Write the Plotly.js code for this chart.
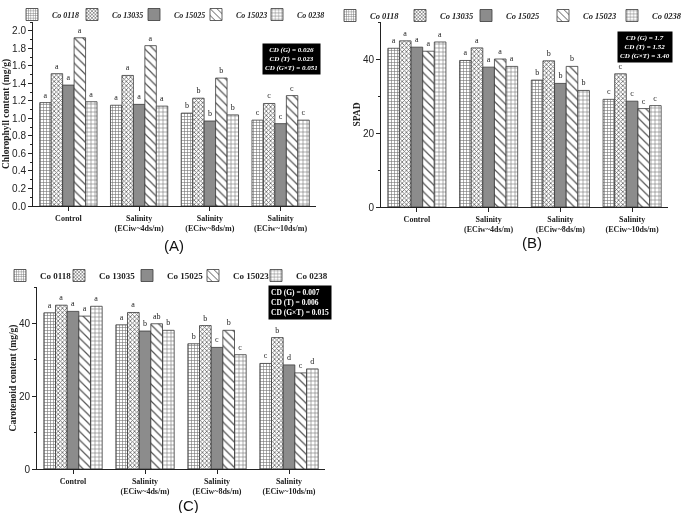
<!DOCTYPE html>
<html>
<head>
<meta charset="utf-8">
<script src="https://cdn.plot.ly/plotly-3.0.1.min.js"></script>
<style>
  html, body { margin: 0; padding: 0; background: #fff; }
  #chart { width: 685px; height: 513px; will-change: transform; transform: translateZ(0); }
</style>
</head>
<body>
<div id="chart"></div>
<script>
// Категории (обработки)
const categories = ['Control', 'Salinity (ECiw~4ds/m)', 'Salinity (ECiw~8ds/m)', 'Salinity (ECiw~10ds/m)'];
const categoryLabels = ['Control', 'Salinity<br>(ECiw~4ds/m)', 'Salinity<br>(ECiw~8ds/m)', 'Salinity<br>(ECiw~10ds/m)'];
const genotypes = ['Co 0118', 'Co 13035', 'Co 15025', 'Co 15023', 'Co 0238'];

// (A) хлорофилл, мг/г
const chl0118  = [1.18, 1.15, 1.06, 0.98];
const chl13035 = [1.51, 1.49, 1.23, 1.17];
const chl15025 = [1.38, 1.16, 0.97, 0.94];
const chl15023 = [1.92, 1.83, 1.46, 1.26];
const chl0238  = [1.19, 1.14, 1.04, 0.98];
const chlLetters = [['a','a','b','c'], ['a','a','b','c'], ['a','a','b','c'], ['a','a','b','c'], ['a','a','b','c']];

// (B) SPAD
const spad0118  = [42.9, 39.6, 34.3, 29.1];
const spad13035 = [44.9, 43.0, 39.5, 36.0];
const spad15025 = [43.2, 37.8, 33.4, 28.6];
const spad15023 = [42.1, 40.0, 38.0, 26.6];
const spad0238  = [44.6, 38.0, 31.5, 27.4];
const spadLetters = [['a','a','b','c'], ['a','a','b','c'], ['a','a','b','c'], ['a','a','b','c'], ['a','a','b','c']];

// (C) каротиноиды
const car0118  = [42.9, 39.6, 34.4, 29.0];
const car13035 = [45.0, 43.0, 39.4, 36.1];
const car15025 = [43.3, 37.9, 33.4, 28.6];
const car15023 = [42.0, 39.9, 38.1, 26.4];
const car0238  = [44.7, 38.1, 31.4, 27.5];
const carLetters = [['a','a','b','c'], ['a','a','b','b'], ['a','b','c','d'], ['a','ab','b','c'], ['a','b','c','d']];

// CD-значения
const cdA = ['CD (G) = 0.026', 'CD (T) = 0.023', 'CD (G×T) = 0.051'];
const cdB = ['CD (G) = 1.7', 'CD (T) = 1.52', 'CD (G×T) = 3.40'];
const cdC = ['CD (G) = 0.007', 'CD (T) = 0.006', 'CD (G×T) = 0.015'];

// Штриховки для сортов
const patterns = [
    { shape: '+', fgcolor: '#707070', bgcolor: '#ffffff', size: 3, solidity: 0.35 },
    { shape: 'x', fgcolor: '#666666', bgcolor: '#ffffff', size: 3, solidity: 0.45 },
    { shape: '',  fgcolor: '#8c8c8c', bgcolor: '#8c8c8c', size: 4, solidity: 1 },
    { shape: '\\', fgcolor: '#555555', bgcolor: '#ffffff', size: 6, solidity: 0.2 },
    { shape: '+', fgcolor: '#808080', bgcolor: '#ffffff', size: 4, solidity: 0.3 }
];

const W = 685, H = 513;
const px = v => v / W;
const py = v => 1 - v / H;

// каждая запись легенды — отдельная легенда, чтобы расставить их как в оригинале
// (левый край легенды в px; значок ~ +14, текст ~ +40)
const legendXA = [12, 72, 134, 196, 257];
const legendXB = [330, 400, 466, 543, 612];
const legendXC = [0, 59, 127, 193, 256];

function legendId(n) { return n === 1 ? 'legend' : 'legend' + n; }

function makeTraces(series, letters, xa, ya, legendStart) {
    return series.map((vals, i) => {
        const p = patterns[i];
        const marker = {
            color: p.shape ? '#ffffff' : p.bgcolor,
            line: { color: '#3a3a3a', width: 0.8 }
        };
        if (p.shape) marker.pattern = { shape: p.shape, fgcolor: p.fgcolor, bgcolor: p.bgcolor, size: p.size, solidity: p.solidity, fillmode: 'replace' };
        return {
            type: 'bar',
            x: categories,
            y: vals,
            name: genotypes[i],
            xaxis: xa,
            yaxis: ya,
            legend: legendId(legendStart + i),
            marker: marker,
            text: letters[i],
            textposition: 'outside',
            cliponaxis: false,
            textfont: { family: 'Liberation Serif', size: 8, color: '#1a1a1a' },
            outsidetextfont: { family: 'Liberation Serif', size: 8, color: '#1a1a1a' },
            hoverinfo: 'y+name'
        };
    });
}

const traces = [].concat(
    makeTraces([chl0118, chl13035, chl15025, chl15023, chl0238], chlLetters, 'x', 'y', 1),
    makeTraces([spad0118, spad13035, spad15025, spad15023, spad0238], spadLetters, 'x2', 'y2', 6),
    makeTraces([car0118, car13035, car15025, car15023, car0238], carLetters, 'x3', 'y3', 11)
);

const tickFont = { family: 'Liberation Sans', size: 10, color: '#222' };
const catFont = { family: 'Liberation Serif', size: 8, color: '#222', weight: 'bold' };

function xAxis(x0, x1, anchor) {
    return {
        domain: [px(x0), px(x1)],
        anchor: anchor,
        type: 'category',
        tickvals: categories,
        ticktext: categoryLabels,
        showline: true, linecolor: '#222', linewidth: 1,
        ticks: 'outside', ticklen: 4, tickcolor: '#222',
        tickfont: catFont,
        showgrid: false, zeroline: false, fixedrange: true
    };
}

function yAxis(y0, y1, anchor, range, dtick, minorDtick, fmt, title) {
    return {
        domain: [py(y0), py(y1)],
        anchor: anchor,
        range: range,
        dtick: dtick,
        tickformat: fmt,
        showline: true, linecolor: '#222', linewidth: 1,
        ticks: 'outside', ticklen: 4, tickcolor: '#222',
        minor: { dtick: minorDtick, ticks: 'outside', ticklen: 2, tickcolor: '#222', showgrid: false },
        tickfont: tickFont,
        showgrid: false, zeroline: false, fixedrange: true,
        title: { text: title, font: { family: 'Liberation Serif', size: 9.5, weight: 'bold', color: '#222' }, standoff: 0 }
    };
}

function legendCfg(x, ytop, italic, size) {
    return {
        x: px(x), y: py(ytop), xanchor: 'left', yanchor: 'top',
        orientation: 'h',
        bgcolor: 'rgba(0,0,0,0)',
        font: { family: 'Liberation Serif', size: size, weight: 'bold', style: italic ? 'italic' : 'normal', color: '#222' },
        itemwidth: 30,
        itemclick: false, itemdoubleclick: false
    };
}

function cdBox(lines, cx, cy, italic, align, size) {
    return {
        xref: 'paper', yref: 'paper',
        x: px(cx), y: py(cy), xanchor: 'center', yanchor: 'middle',
        showarrow: false,
        text: lines.join('<br>'),
        align: align,
        bgcolor: '#000', borderpad: 2,
        font: { family: 'Liberation Serif', size: size, color: '#fff', weight: 'bold', style: italic ? 'italic' : 'normal' }
    };
}

function panelLabel(t, x, y) {
    return {
        xref: 'paper', yref: 'paper', x: px(x), y: py(y),
        xanchor: 'center', yanchor: 'middle', showarrow: false,
        text: t, font: { family: 'Liberation Sans', size: 15, color: '#111' }
    };
}

const layout = {
    width: W, height: H,
    margin: { l: 0, r: 0, t: 0, b: 0, autoexpand: false },
    paper_bgcolor: '#fff', plot_bgcolor: '#fff',
    barmode: 'group', bargap: 0.19, bargroupgap: 0,
    xaxis: xAxis(33, 316, 'y'),
    yaxis: yAxis(206, 22, 'x', [0, 2.1], 0.2, 0.1, '.1f', 'Chlorophyll content (mg/g)'),
    xaxis2: xAxis(381, 668, 'y2'),
    yaxis2: yAxis(207, 22, 'x2', [0, 50], 20, 10, '', 'SPAD'),
    xaxis3: xAxis(37, 325, 'y3'),
    yaxis3: yAxis(469, 287, 'x3', [0, 50], 20, 10, '', 'Carotenoid content (mg/g)'),
    annotations: [
        cdBox(cdA, 291.5, 59, true, 'center', 7),
        cdBox(cdB, 644.5, 46.5, true, 'center', 7),
        cdBox(cdC, 299.5, 302.5, false, 'left', 7.5),
        panelLabel('(A)', 174, 245),
        panelLabel('(B)', 532, 243),
        panelLabel('(C)', 188, 505)
    ],
    showlegend: true
};

legendXA.forEach((x, i) => { layout[legendId(1 + i)] = legendCfg(x, 0, true, 8); });
legendXB.forEach((x, i) => { layout[legendId(6 + i)] = legendCfg(x, 1, true, 8.5); });
legendXC.forEach((x, i) => { layout[legendId(11 + i)] = legendCfg(x, 261, false, 9); });

Plotly.newPlot('chart', traces, layout, { displayModeBar: false, staticPlot: true });
</script>
</body>
</html>
